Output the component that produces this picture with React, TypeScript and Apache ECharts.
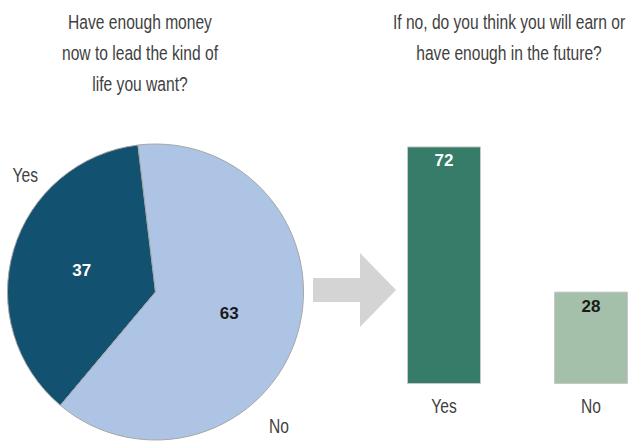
import React, { useEffect, useRef } from "react";
import * as echarts from "echarts";

const pieCategories = ["Yes", "No"];
const pieValues = [37, 63];
const barCategories = ["Yes", "No"];
const barValues = [72, 28];
const leftTitle = "Have enough money\nnow to lead the kind of\nlife you want?";
const rightTitle = "If no, do you think you will earn or\nhave enough in the future?";

const FONT = "'Liberation Sans', Arial, sans-serif";
const TEXT_COLOR = "#3f3f3f";
const CONDENSE = 0.8;
const FS = 19.5;
const pieColors = ["#12516f", "#aec4e4"];
const pieLabelColors = ["#ffffff", "#1a1a1a"];
const barColors = ["#367c69", "#a5c0aa"];
const barLabelColors = ["#ffffff", "#1a1a1a"];

function condensedText(text: string, x: number, y: number, align: string, extra: any = {}) {
  return {
    type: "text",
    x,
    y,
    scaleX: CONDENSE,
    silent: true,
    style: {
      text,
      fontFamily: FONT,
      fontSize: FS,
      fill: TEXT_COLOR,
      textAlign: align,
      textVerticalAlign: "middle",
      ...extra,
    },
  };
}

export default function App() {
  const ref = useRef<HTMLDivElement>(null);
  useEffect(() => {
    if (!ref.current) return;
    const chart = echarts.init(ref.current, undefined, { renderer: "svg" });
    chart.setOption({
      animation: false,
      backgroundColor: "#ffffff",
      textStyle: { fontFamily: FONT },
      grid: { left: 444, top: 54, width: 147, height: 330 },
      xAxis: {
        type: "category",
        data: barCategories,
        boundaryGap: false,
        axisLine: { show: false },
        axisTick: { show: false },
        axisLabel: { show: false },
      },
      yAxis: {
        type: "value",
        min: 0,
        max: 100,
        show: false,
        splitLine: { show: false },
      },
      series: [
        {
          type: "pie",
          center: [155.5, 292],
          radius: 148,
          startAngle: 230,
          clockwise: true,
          silent: true,
          itemStyle: { borderColor: "#a6a6a6", borderWidth: 1 },
          label: {
            position: "inside",
            fontFamily: FONT,
            fontWeight: "bold",
            fontSize: 17,
            formatter: (p: any) => String(p.value),
          },
          labelLine: { show: false },
          data: pieCategories.map((c, i) => ({
            name: c,
            value: pieValues[i],
            itemStyle: { color: pieColors[i] },
            label: { color: pieLabelColors[i] },
          })),
        },
        {
          type: "bar",
          barWidth: 74,
          clip: false,
          silent: true,
          data: barValues.map((v, i) => ({
            value: v,
            itemStyle: { color: barColors[i], borderColor: "#c8c8c8", borderWidth: 1 },
            label: { color: barLabelColors[i] },
          })),
          label: {
            show: true,
            position: "insideTop",
            distance: 6,
            fontFamily: FONT,
            fontWeight: "bold",
            fontSize: 17,
          },
        },
      ],
    });

    const barLabelTexts = barCategories.map((c) => {
      const px = chart.convertToPixel({ xAxisIndex: 0 }, c) as number;
      const py = chart.convertToPixel({ yAxisIndex: 0 }, 0) as number;
      return condensedText(c, px, py + 22, "center");
    });

    chart.setOption({
      graphic: [
        condensedText(leftTitle, 140, 7, "center", { textVerticalAlign: "top", lineHeight: 31 }),
        condensedText(rightTitle, 509, 7, "center", { textVerticalAlign: "top", lineHeight: 31 }),
        condensedText(pieCategories[0], 12.5, 175, "left"),
        condensedText(pieCategories[1], 269, 426, "left"),
        ...barLabelTexts,
        {
          type: "polygon",
          silent: true,
          shape: {
            points: [
              [313, 278],
              [360, 278],
              [360, 253],
              [396, 290],
              [360, 327],
              [360, 302],
              [313, 302],
            ],
          },
          style: { fill: "#d4d4d4" },
        },
      ],
    });
    return () => chart.dispose();
  }, []);
  return <div ref={ref} style={{ position: "fixed", left: 0, top: 0, width: 643, height: 442 }} />;
}
